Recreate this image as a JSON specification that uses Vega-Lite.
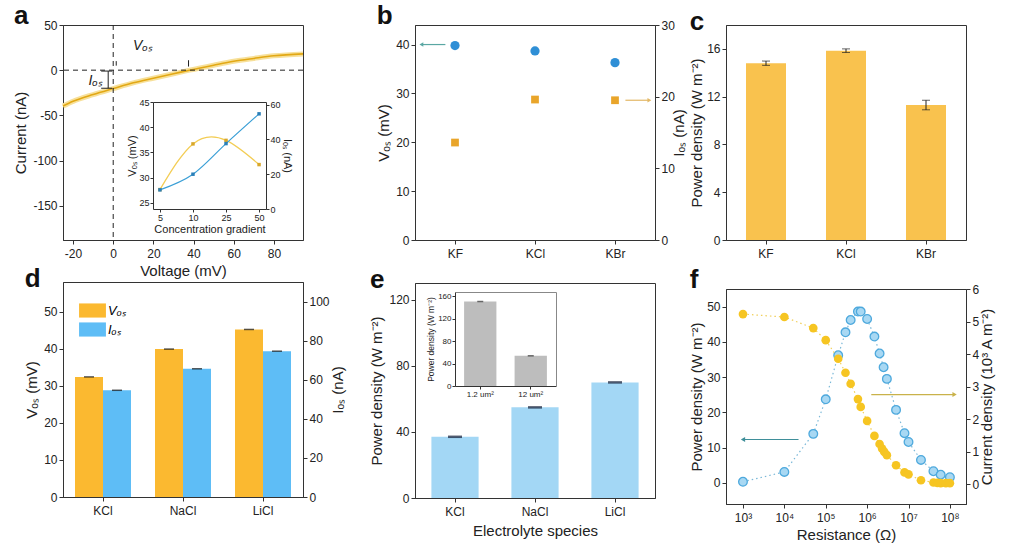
{
"$schema": "https://vega.github.io/schema/vega-lite/v6.json",
"background": "white",
"padding": {"left": 13, "top": 2, "right": 0, "bottom": 0},
"spacing": 23,
"resolve": {"scale": {"color": "independent"}, "legend": {"color": "independent"}},
"hconcat": [
{
"vconcat": [
{
 "title": {"text": "a"},
 "width": 240, "height": 215,
 "layer": [
  {
   "layer": [
    {"data": {"values": [{"V":-25,"I":-39.7},{"V":-20,"I":-34.5},{"V":-10,"I":-27},{"V":0,"I":-20.4},{"V":10,"I":-14},{"V":20,"I":-8.9},{"V":30,"I":-4},{"V":38,"I":0},{"V":50,"I":5.5},{"V":60,"I":9.8},{"V":70,"I":13},{"V":80,"I":15.9},{"V":94.5,"I":18}]},
     "mark": {"type":"line","color":"#f7e09a","strokeWidth":5,"interpolate":"monotone"},
     "encoding": {
      "x": {"field":"V","type":"quantitative","scale":{"domain":[-25,94.5],"nice":false,"zero":false},"axis":{"title":"Voltage (mV)","values":[-20,0,20,40,60,80],"labelExpr":"'' + datum.value"}},
      "y": {"field":"I","type":"quantitative","scale":{"domain":[-188,50],"nice":false,"zero":false},"axis":{"title":"Current (nA)","values":[-150,-100,-50,0,50],"labelExpr":"'' + datum.value"}}
     }},
    {"data": {"values": [{"V":-25,"I":-39.7},{"V":-20,"I":-34.5},{"V":-10,"I":-27},{"V":0,"I":-20.4},{"V":10,"I":-14},{"V":20,"I":-8.9},{"V":30,"I":-4},{"V":38,"I":0},{"V":50,"I":5.5},{"V":60,"I":9.8},{"V":70,"I":13},{"V":80,"I":15.9},{"V":94.5,"I":18}]},
     "mark": {"type":"line","color":"#e2a814","strokeWidth":1.6,"interpolate":"monotone"},
     "encoding": {"x": {"field":"V","type":"quantitative"},"y": {"field":"I","type":"quantitative"}}},
    {"data": {"values": [{"I":0}]}, "mark": {"type":"rule","strokeDash":[5,4],"color":"#222","strokeWidth":1}, "encoding": {"y": {"field":"I","type":"quantitative"}}},
    {"data": {"values": [{"V":0}]}, "mark": {"type":"rule","strokeDash":[5,4],"color":"#222","strokeWidth":1}, "encoding": {"x": {"field":"V","type":"quantitative"}}},
    {"data": {"values": [{"V":-2.5,"V2":-2.5,"I":-1,"I2":-20},{"V":-6,"V2":-0.5,"I":-1,"I2":-1},{"V":-6,"V2":-0.5,"I":-20,"I2":-20},{"V":1.5,"V2":1.5,"I":5,"I2":10},{"V":37.5,"V2":37.5,"I":4,"I2":11}]},
     "mark": {"type":"rule","color":"#222","strokeWidth":1},
     "encoding": {"x": {"field":"V","type":"quantitative"},"x2": {"field":"V2"},"y": {"field":"I","type":"quantitative"},"y2": {"field":"I2"}}},
    {"data": {"values": [{"V":14.5,"I":27,"t":"Vₒₛ"},{"V":-9,"I":-12,"t":"Iₒₛ"}]},
     "mark": {"type":"text","fontSize":14,"fontStyle":"italic","color":"#222"},
     "encoding": {"x": {"field":"V","type":"quantitative"},"y": {"field":"I","type":"quantitative"},"text": {"field":"t"}}}
   ]
  },
  {
   "layer": [
    {
     "data": {"values": [{"c":"5","v":27.65},{"c":"10","v":36.7},{"c":"25","v":37.4},{"c":"50","v":32.6}]},
     "encoding": {
      "x": {"field":"c","type":"ordinal","sort":null,"scale":{"type":"point","domain":["5","10","25","50"],"range":[90,203],"padding":0.21},"axis":{"orient":"bottom","offset":-31,"labelFontSize":9,"title":"Concentration gradient","titleFontSize":11,"titlePadding":1,"tickSize":3,"labelPadding":1}},
      "y": {"field":"v","type":"quantitative","scale":{"domain":[23.8,45],"range":[184,77],"nice":false,"zero":false},"axis":{"orient":"left","offset":-90,"values":[25,30,35,40,45],"labelFontSize":9,"title":"Vₒₛ (mV)","titleFontSize":11,"titlePadding":1,"tickSize":3,"labelPadding":1}}
     },
     "layer": [
      {"mark": {"type":"line","color":"#f3cd55","strokeWidth":1.3,"interpolate":"natural"}},
      {"mark": {"type":"point","shape":"square","filled":true,"size":12,"color":"#d8a72a","opacity":1}}
     ]
    },
    {
     "data": {"values": [{"c":"5","v":11},{"c":"10","v":20},{"c":"25","v":37.6},{"c":"50","v":54.7}]},
     "encoding": {
      "x": {"field":"c","type":"ordinal","sort":null,"scale":{"type":"point","domain":["5","10","25","50"],"range":[90,203],"padding":0.21},"axis":null},
      "y": {"field":"v","type":"quantitative","scale":{"domain":[0,61.5],"range":[184,77],"nice":false,"zero":false},"axis":{"orient":"right","offset":-37,"values":[0,20,40,60],"labelFontSize":9,"title":"Iₒₛ (nA)","titleFontSize":11,"titlePadding":1,"tickSize":3,"labelPadding":1}}
     },
     "layer": [
      {"mark": {"type":"line","color":"#3a9fd6","strokeWidth":1.2,"interpolate":"monotone"}},
      {"mark": {"type":"point","shape":"square","filled":true,"size":12,"color":"#2a7fb8","opacity":1}}
     ]
    },
    {
     "data": {"values": [{"c":"5"}]},
     "mark": {"type":"point","opacity":0},
     "encoding": {"x": {"field":"c","type":"ordinal","sort":null,"scale":{"type":"point","domain":["5","10","25","50"],"range":[90,203],"padding":0.21},"axis":{"orient":"top","offset":-77,"labels":false,"ticks":false,"title":null}}}
    }
   ],
   "resolve": {"scale": {"x":"independent","y":"independent"}}
  }
 ],
 "resolve": {"scale": {"x":"independent","y":"independent"}}
},
{
 "title": {"text": "d"},
 "width": 240, "height": 215,
 "encoding": {
  "x": {"field":"s","type":"nominal","sort":["KCl","NaCl","LiCl"],"scale":{"paddingInner":0.3,"paddingOuter":0.15},"axis":{"title":null}},
  "xOffset": {"field":"series","type":"nominal","scale":{"domain":["Vₒₛ","Iₒₛ"]}}
 },
 "layer": [
  {
   "data": {"values": [{"s":"KCl","series":"Vₒₛ","v":32.4},{"s":"NaCl","series":"Vₒₛ","v":39.9},{"s":"LiCl","series":"Vₒₛ","v":45.2}]},
   "layer": [
    {"mark": {"type":"bar"},
     "encoding": {
      "y": {"field":"v","type":"quantitative","title":"Vₒₛ (mV)","scale":{"domain":[0,58],"nice":false},"axis":{"values":[0,10,20,30,40,50]}},
      "color": {"field":"series","type":"nominal","scale":{"domain":["Vₒₛ","Iₒₛ"],"range":["#fbb930","#5ebdf6"]},
        "legend": {"orient":"none","legendX":22,"legendY":21,"title":null,"symbolType":"M-1.9,-1H1.9V1H-1.9Z","symbolSize":200,"labelFontSize":13,"labelFontStyle":"italic","rowPadding":4,"symbolStrokeWidth":0,"labelOffset":8}}
     }},
    {"mark": {"type":"tick","color":"#111","size":10,"thickness":1.5},
     "encoding": {"y": {"field":"v","type":"quantitative","title":"Vₒₛ (mV)"}}}
   ]
  },
  {
   "data": {"values": [{"s":"KCl","series":"Iₒₛ","v":54.6},{"s":"NaCl","series":"Iₒₛ","v":65.6},{"s":"LiCl","series":"Iₒₛ","v":74.6}]},
   "layer": [
    {"mark": {"type":"bar"},
     "encoding": {
      "y": {"field":"v","type":"quantitative","title":"Iₒₛ (nA)","scale":{"domain":[0,110],"nice":false},"axis":{"orient":"right","values":[0,20,40,60,80,100],"titleAngle":-90,"titleBaseline":"top","titlePadding":1}},
      "color": {"field":"series","type":"nominal"}
     }},
    {"mark": {"type":"tick","color":"#111","size":10,"thickness":1.5},
     "encoding": {"y": {"field":"v","type":"quantitative","title":"Iₒₛ (nA)"}}}
   ]
  }
 ],
 "resolve": {"scale": {"y":"independent"}}
}
],
"spacing": -14,
"resolve": {"scale": {"color": "independent"}, "legend": {"color": "independent"}}
},
{
"hconcat": [
{
"vconcat": [
{
 "title": {"text": "b"},
 "width": 240, "height": 215,
 "layer": [
  {
   "layer": [
    {"data": {"values": [{"i":-0.42,"i2":-0.12,"v":40}]}, "mark": {"type":"rule","color":"#5aa7a3","strokeWidth":1.2},
     "encoding": {"x": {"field":"i","type":"quantitative"},"x2": {"field":"i2"},"y": {"field":"v","type":"quantitative"}}},
    {"data": {"values": [{"i":-0.42,"v":40}]}, "mark": {"type":"point","shape":"triangle-left","filled":true,"size":20,"color":"#5aa7a3","opacity":1},
     "encoding": {"x": {"field":"i","type":"quantitative"},"y": {"field":"v","type":"quantitative"}}},
    {"data": {"values": [{"i":0,"v":39.8},{"i":1,"v":38.7},{"i":2,"v":36.3}]},
     "mark": {"type":"point","filled":true,"size":85,"color":"#2f8fd6","opacity":1},
     "encoding": {
      "x": {"field":"i","type":"quantitative","scale":{"domain":[-0.5,2.5],"nice":false,"zero":false},"axis":{"values":[0,1,2],"labelExpr":"['KF','KCl','KBr'][datum.value]","title":null}},
      "y": {"field":"v","type":"quantitative","scale":{"domain":[0,44],"nice":false},"axis":{"values":[0,10,20,30,40],"title":"Vₒₛ (mV)"}}
     }}
   ]
  },
  {
   "layer": [
    {"data": {"values": [{"i":2.13,"i2":2.42,"c":19.5}]}, "mark": {"type":"rule","color":"#e3b866","strokeWidth":1.2},
     "encoding": {"x": {"field":"i","type":"quantitative"},"x2": {"field":"i2"},"y": {"field":"c","type":"quantitative"}}},
    {"data": {"values": [{"i":2.43,"c":19.5}]}, "mark": {"type":"point","shape":"triangle-right","filled":true,"size":20,"color":"#e3b866","opacity":1},
     "encoding": {"x": {"field":"i","type":"quantitative"},"y": {"field":"c","type":"quantitative"}}},
    {"data": {"values": [{"i":0,"c":13.6},{"i":1,"c":19.6},{"i":2,"c":19.5}]},
     "mark": {"type":"point","shape":"square","filled":true,"size":60,"color":"#e9a52a","opacity":1},
     "encoding": {
      "x": {"field":"i","type":"quantitative"},
      "y": {"field":"c","type":"quantitative","scale":{"domain":[0,30],"nice":false},"axis":{"orient":"right","values":[0,10,20,30],"title":"Iₒₛ (nA)","titleAngle":-90,"titleBaseline":"top","titlePadding":-3}}
     }}
   ]
  }
 ],
 "resolve": {"scale": {"y":"independent"}}
},
{
 "title": {"text": "e"},
 "width": 240, "height": 215,
 "layer": [
  {
   "data": {"values": [{"s":"KCl","p":37},{"s":"NaCl","p":54.8},{"s":"LiCl","p":69.9}]},
   "encoding": {
    "x": {"field":"s","type":"nominal","sort":null,"scale":{"paddingInner":0.41,"paddingOuter":0.205},"axis":{"title":"Electrolyte species","titlePadding":6}},
    "y": {"field":"p","type":"quantitative","title":"Power density (W m⁻²)","scale":{"domain":[0,130],"nice":false},"axis":{"values":[0,40,80,120]}}
   },
   "layer": [
    {"mark": {"type":"bar","color":"#a3d7f5"}},
    {"mark": {"type":"tick","color":"#0f1a33","size":14,"thickness":2.5}}
   ]
  },
  {
   "layer": [
    {
     "data": {"values": [{"a":"1.2 um²","p":151},{"a":"12 um²","p":54}]},
     "encoding": {
      "x": {"field":"a","type":"nominal","sort":null,"scale":{"domain":["1.2 um²","12 um²"],"range":[40,141],"paddingInner":0.36,"paddingOuter":0.18},"axis":{"orient":"bottom","offset":-112,"labelFontSize":8,"title":null,"tickSize":3,"labelPadding":1}},
      "y": {"field":"p","type":"quantitative","scale":{"domain":[0,168],"range":[103,9],"nice":false},"axis":{"orient":"left","offset":-40,"values":[0,40,80,120,160],"labelFontSize":8,"title":"Power density (W m⁻²)","titleFontSize":8.5,"titlePadding":2,"tickSize":3,"labelPadding":1}}
     },
     "layer": [
      {"mark": {"type":"bar","color":"#bdbdbd"}},
      {"mark": {"type":"tick","color":"#333","size":6,"thickness":1.5}}
     ]
    },
    {
     "data": {"values": [{"a":"1.2 um²","p":0}]},
     "mark": {"type":"point","opacity":0},
     "encoding": {
      "x": {"field":"a","type":"nominal","sort":null,"scale":{"domain":["1.2 um²","12 um²"],"range":[40,141],"paddingInner":0.36,"paddingOuter":0.18},"axis":{"orient":"top","offset":-9,"labels":false,"ticks":false,"title":null,"domainColor":"#888"}},
      "y": {"field":"p","type":"quantitative","scale":{"domain":[0,168],"range":[103,9],"nice":false},"axis":{"orient":"right","offset":-99,"labels":false,"ticks":false,"title":null,"domainColor":"#888"}}
     }
    }
   ],
   "resolve": {"scale": {"x":"independent","y":"independent"}}
  }
 ],
 "resolve": {"scale": {"x":"independent","y":"independent"}}
}
],
"spacing": 6
},
{
"vconcat": [
{
 "title": {"text": "c"},
 "width": 240, "height": 215,
 "data": {"values": [{"s":"KF","p":14.8,"lo":14.62,"hi":14.98},{"s":"KCl","p":15.85,"lo":15.7,"hi":16.0},{"s":"KBr","p":11.3,"lo":10.9,"hi":11.7}]},
 "encoding": {"x": {"field":"s","type":"nominal","sort":null,"scale":{"paddingInner":0.5,"paddingOuter":0.25},"axis":{"title":null}}},
 "layer": [
  {"mark": {"type":"bar","color":"#f9c24e"},
   "encoding": {"y": {"field":"p","type":"quantitative","title":"Power density (W m⁻²)","scale":{"domain":[0,18],"nice":false},"axis":{"values":[0,4,8,12,16],"titlePadding":2}}}},
  {"mark": {"type":"rule","color":"#222"},
   "encoding": {"y": {"field":"lo","type":"quantitative","title":"Power density (W m⁻²)"},"y2": {"field":"hi"}}},
  {"mark": {"type":"tick","color":"#222","size":8,"thickness":1},
   "encoding": {"y": {"field":"lo","type":"quantitative","title":"Power density (W m⁻²)"}}},
  {"mark": {"type":"tick","color":"#222","size":8,"thickness":1},
   "encoding": {"y": {"field":"hi","type":"quantitative","title":"Power density (W m⁻²)"}}}
 ]
},
{
 "title": {"text": "f"},
 "width": 240, "height": 215,
 "layer": [
  {
   "data": {"values": [{"r":1000,"p":0.3},{"r":10000,"p":3.1},{"r":50000,"p":13.9},{"r":100000,"p":23.7},{"r":200000,"p":36.2},{"r":300000,"p":42.7},{"r":400000,"p":46.2},{"r":600000,"p":48.6},{"r":700000,"p":48.6},{"r":1000000,"p":46.5},{"r":1500000,"p":41.5},{"r":2000000,"p":36.7},{"r":2500000,"p":32.8},{"r":3000000,"p":29.5},{"r":5000000,"p":20.7},{"r":8000000,"p":14.1},{"r":10000000,"p":11.6},{"r":20000000,"p":6.5},{"r":40000000,"p":3.3},{"r":60000000,"p":2.3},{"r":100000000,"p":1.6}]},
   "encoding": {
    "x": {"field":"r","type":"quantitative","scale":{"type":"log","domain":[389,245000000],"nice":false},"axis":{"values":[1000,10000,100000,1000000,10000000,100000000],"labelExpr":"'10' + ['⁰','¹','²','³','⁴','⁵','⁶','⁷','⁸'][round(log(datum.value)/LN10)]","title":"Resistance (Ω)"}},
    "y": {"field":"p","type":"quantitative","title":"Power density (W m⁻²)","scale":{"domain":[-6,55],"nice":false,"zero":false},"axis":{"values":[0,10,20,30,40,50],"titlePadding":2}}
   },
   "layer": [
    {"mark": {"type":"line","color":"#7ab8d8","strokeWidth":1.2,"strokeDash":[1.5,3]}},
    {"mark": {"type":"point","filled":true,"size":75,"fill":"#a8d8f3","stroke":"#4ea9dd","strokeWidth":1.3,"opacity":1}},
    {"data": {"values": [{"r":1100,"r2":22000,"p":12.3}]}, "mark": {"type":"rule","color":"#3f8f9a","strokeWidth":1.2},
     "encoding": {"x2": {"field":"r2"}}},
    {"data": {"values": [{"r":1000,"p":12.3}]}, "mark": {"type":"point","shape":"triangle-left","filled":true,"size":25,"color":"#3f8f9a","opacity":1}}
   ]
  },
  {
   "data": {"values": [{"r":1000,"c":5.23},{"r":10000,"c":5.14},{"r":50000,"c":4.8},{"r":100000,"c":4.43},{"r":200000,"c":3.86},{"r":300000,"c":3.43},{"r":400000,"c":3.09},{"r":600000,"c":2.62},{"r":700000,"c":2.38},{"r":1000000,"c":1.95},{"r":1500000,"c":1.49},{"r":2000000,"c":1.24},{"r":2300000,"c":1.1},{"r":2600000,"c":1.0},{"r":3000000,"c":0.9},{"r":5000000,"c":0.59},{"r":8000000,"c":0.37},{"r":10000000,"c":0.31},{"r":20000000,"c":0.13},{"r":40000000,"c":0.06},{"r":50000000,"c":0.05},{"r":60000000,"c":0.04},{"r":80000000,"c":0.04},{"r":100000000,"c":0.04}]},
   "encoding": {
    "x": {"field":"r","type":"quantitative"},
    "y": {"field":"c","type":"quantitative","title":"Current density (10³ A m⁻²)","scale":{"domain":[-0.6,6],"nice":false,"zero":false},"axis":{"orient":"right","values":[0,1,2,3,4,5,6],"titleAngle":-90,"titleBaseline":"top","titlePadding":1}}
   },
   "layer": [
    {"mark": {"type":"line","color":"#f0cf5a","strokeWidth":1.2,"strokeDash":[1.5,3]}},
    {"mark": {"type":"point","filled":true,"size":75,"color":"#f6c522","opacity":1}},
    {"data": {"values": [{"r":1260000,"r2":120000000,"c":2.76}]}, "mark": {"type":"rule","color":"#c9b24a","strokeWidth":1.2},
     "encoding": {"x2": {"field":"r2"}}},
    {"data": {"values": [{"r":130000000,"c":2.76}]}, "mark": {"type":"point","shape":"triangle-right","filled":true,"size":25,"color":"#c9b24a","opacity":1}}
   ]
  }
 ],
 "resolve": {"scale": {"y":"independent"}}
}
],
"spacing": 6
}
],
"spacing": 2
}
],
"config": {
 "font": "Liberation Sans",
 "view": {"stroke": "#333", "strokeWidth": 1},
 "axis": {"grid": false, "labelFontSize": 12, "titleFontSize": 15, "titleFontWeight": "normal", "domainColor": "#333", "tickColor": "#333", "labelColor": "#222", "titleColor": "#222", "tickSize": 4, "labelPadding": 2, "titlePadding": 4},
 "axisX": {"labelAngle": 0, "labelPadding": 4},
 "title": {"fontSize": 26, "fontWeight": "bold", "anchor": "start", "frame": "bounds", "offset": -10, "color": "#111"}
}
}
